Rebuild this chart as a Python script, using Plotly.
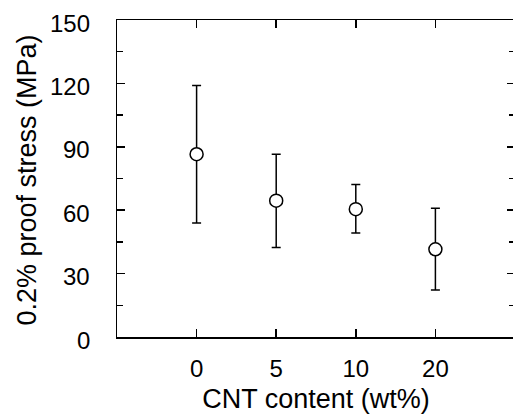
import plotly.graph_objects as go

categories = ["0", "5", "10", "20"]
positions = [1, 2, 3, 4]
proof_stress = [86.5, 64.5, 60.5, 41.5]
err_plus = [32.5, 22.0, 11.7, 19.4]
err_minus = [32.5, 22.2, 11.3, 19.3]
y_ticks = [0, 30, 60, 90, 120, 150]

FONT = "Liberation Sans, Arial, sans-serif"

fig = go.Figure()
fig.add_trace(go.Scatter(
    x=positions, y=proof_stress, mode="markers",
    marker=dict(symbol="circle", size=13, color="white",
                line=dict(color="black", width=1.5)),
    error_y=dict(type="data", array=err_plus, arrayminus=err_minus,
                 symmetric=False, color="black", thickness=1.5, width=4.5),
    showlegend=False, hoverinfo="skip",
))

# y tick labels placed on the y scale, set a little away from the axis
ytick_labels = [dict(
    text=str(v), xref="paper", yref="y", x=-0.0625, y=v, yshift=-3,
    xanchor="right", yanchor="middle", showarrow=False,
    font=dict(size=24, family=FONT, color="black"),
) for v in y_ticks]

fig.update_layout(
    width=517, height=416,
    margin=dict(l=117, r=0, t=20, b=79),
    paper_bgcolor="white", plot_bgcolor="white",
    font=dict(family=FONT, color="black", size=24),
    hovermode=False,
    xaxis=dict(
        range=[0, 5], tickvals=positions, ticktext=categories,
        ticks="inside", ticklen=8, tickwidth=1.5, tickcolor="black",
        showline=True, linecolor="black", linewidth=1.5, mirror="ticks",
        showgrid=False, zeroline=False,
        tickfont=dict(size=24), ticklabelstandoff=10,
        title=dict(text="CNT content (wt%)", font=dict(size=27), standoff=8),
    ),
    yaxis=dict(
        range=[0, 150], tickvals=y_ticks, showticklabels=False,
        ticks="inside", ticklen=8, tickwidth=1.5, tickcolor="black",
        minor=dict(ticks="inside", ticklen=6, dtick=15, tickwidth=1.5,
                   tickcolor="black", showgrid=False),
        showline=True, linecolor="black", linewidth=1.5, mirror="ticks",
        showgrid=False, zeroline=False,
    ),
    annotations=ytick_labels + [dict(
        text="0.2% proof stress (MPa)", textangle=-90,
        xref="paper", yref="paper", x=-0.225, y=0.495,
        xanchor="center", yanchor="middle", showarrow=False,
        font=dict(size=27, family=FONT, color="black"),
    )],
)

fig.write_html(
    "out.html",
    config={"displayModeBar": False, "staticPlot": True},
    post_script=(
        "document.body.style.margin='0';"
        "document.body.style.overflow='hidden';"
        "document.documentElement.style.overflow='hidden';"
    ),
)
